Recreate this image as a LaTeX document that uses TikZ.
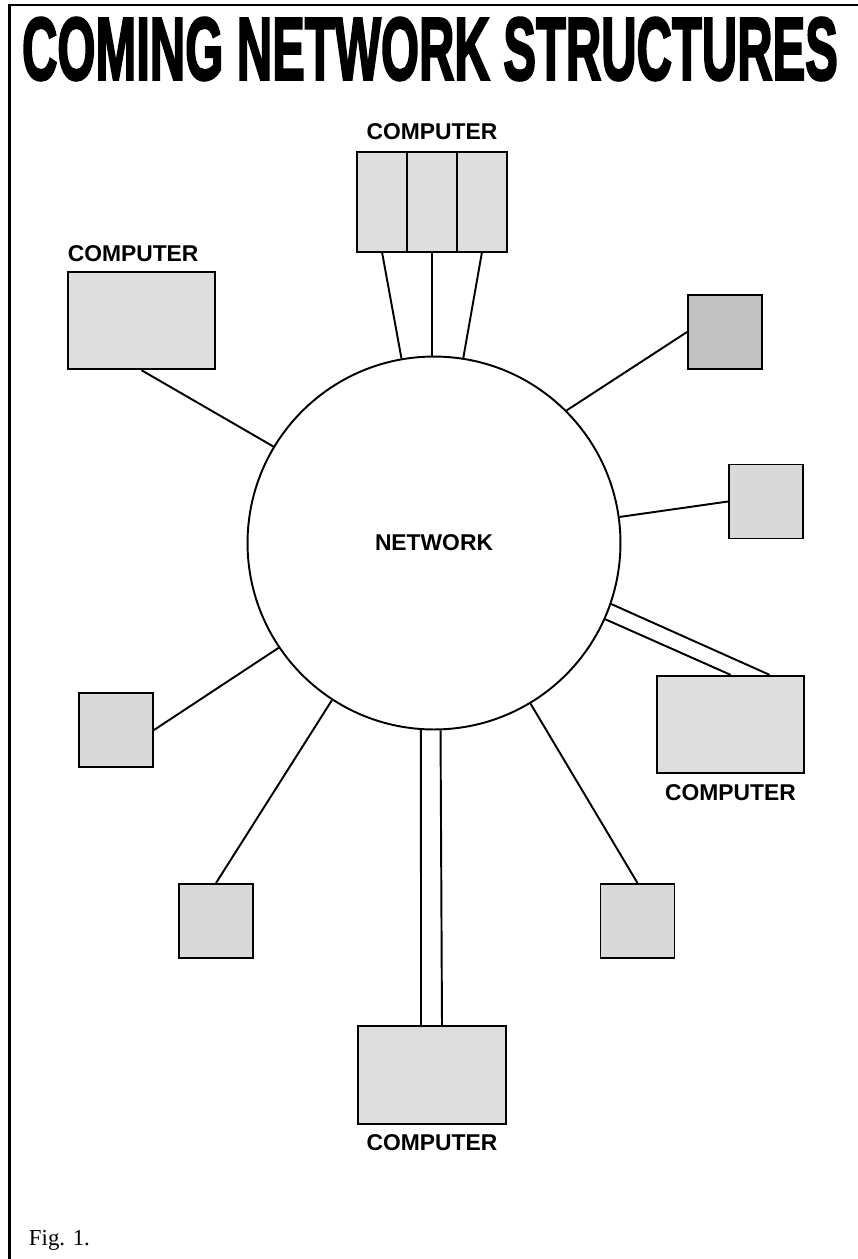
\documentclass[tikz,border=0pt]{standalone}
\usepackage{graphicx}
\usepackage{fontspec}
\setmainfont{Liberation Sans}
\newfontfamily\titlefont{Liberation Sans}[BoldFeatures={FakeBold=3}]
\newfontfamily\figfont{Liberation Serif}
\usetikzlibrary{positioning}

\begin{document}
\begin{tikzpicture}[x=0.02cm, y=-0.02cm, line width=1.1pt,
    main/.style = {circle, draw, inner sep=0pt, minimum size=7.46cm, font=\fontsize{13}{13}\selectfont\bfseries},
    big/.style = {rectangle, draw, fill=black!13, inner sep=0pt, minimum width=2.95cm, minimum height=1.95cm},
    small/.style = {rectangle, draw, fill=black!15, inner sep=0pt, minimum size=1.48cm},
    part/.style = {rectangle, draw, fill=black!13, inner sep=0pt, outer sep=0pt, minimum width=1cm, minimum height=2cm},
    lbl/.style = {inner sep=0pt, font=\fontsize{13}{13}\selectfont\bfseries}]
            \useasboundingbox (0,0) rectangle (858,1259);

            % Frame and title
            \draw[line width=1.4pt] (858,5) -- (9.5,5) -- (9.5,1259);
            \node (title) at (430,49) {\resizebox{16.32cm}{1.24cm}{\titlefont\bfseries COMING NETWORK STRUCTURES}};

            % Network
            \node[main] (net) at (434,543) {NETWORK};

            % Computers
            \node[part] (cpuB) at (432,202) {};
            \node[part] (cpuA) [left=0pt of cpuB] {};
            \node[part] (cpuC) [right=0pt of cpuB] {};
            \node[lbl] (cpuBlbl) [above=0.22cm of cpuB] {COMPUTER};

            \node[big] (lcpu) at (141.5,320.5) {};
            \node[lbl] (lcpulbl) [above right=0.16cm and 0cm of lcpu.north west] {COMPUTER};

            \node[big] (rcpu) at (730.5,724.5) {};
            \node[lbl] (rcpulbl) [below=0.18cm of rcpu] {COMPUTER};

            \node[big] (bcpu) at (432,1075) {};
            \node[lbl] (bcpulbl) [below=0.18cm of bcpu] {COMPUTER};

            % Terminals
            \node[small, fill=black!24] (trs) at (725,332) {};
            \node[small] (rms) at (766,501.5) {};
            \node[small] (lsm) at (116,730) {};
            \node[small] (bls) at (216,921) {};
            \node[small] (brs) at (637.5,921) {};

            % Lines
            \draw (cpuA.south) -- (net.100.5);
            \draw (cpuB.south) -- (cpuB.south |- net.north);
            \draw (cpuC.south) -- (net.81);
            \draw (lcpu.south) -- (net.149.5);
            \draw (trs.west) -- (net.45);
            \draw (rms.west) -- (net.8);
            \draw ([xshift=0.78cm]rcpu.north) -- (net.341);
            \draw (rcpu.north) -- (net.336);
            \draw (lsm.east) -- (net.214);
            \draw (bls.north) -- (net.237);
            \draw (brs.north) -- (net.301);
            \draw ([xshift=-0.22cm]bcpu.north) -- (net.266);
            \draw ([xshift=0.2cm]bcpu.north) -- (net.272.5);

            % Caption
            \node[anchor=base west, inner sep=0pt, font=\figfont\fontsize{13}{13}\selectfont] (fig) at (28,1245) {Fig. 1.};

        \end{tikzpicture}
\end{document}
